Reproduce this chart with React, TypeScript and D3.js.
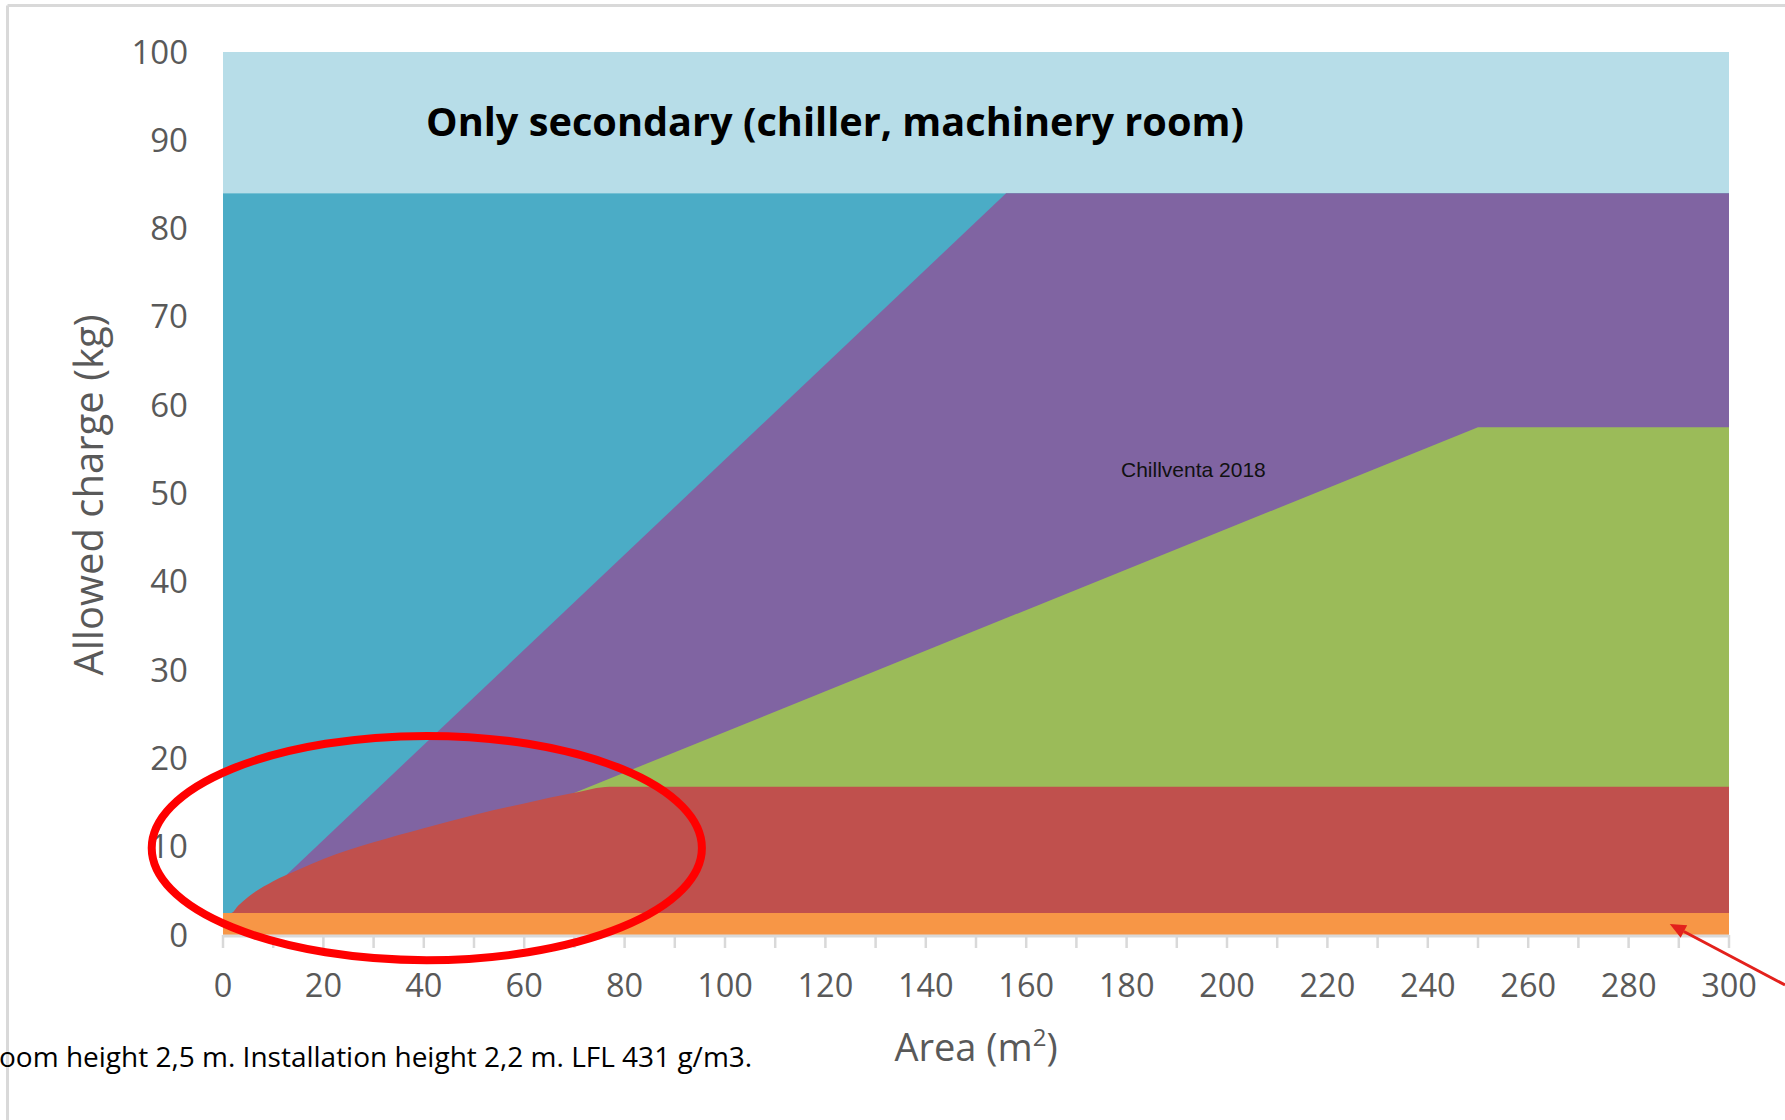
import React from "react";
import * as d3 from "d3";

const W = 1785;
const H = 1120;

// tick labels
const areaLabels = [0, 20, 40, 60, 80, 100, 120, 140, 160, 180, 200, 220, 240, 260, 280, 300];
const chargeLabels = [0, 10, 20, 30, 40, 50, 60, 70, 80, 90, 100];

// zones (area m2 -> allowed charge kg)
const secondaryBand = [84, 100];
const tealArea = [0, 300];
const tealCharge = [84, 84];
const purpleArea = [0, 156, 300];
const purpleCharge = [0, 84, 84];
const greenArea = [0, 250, 300];
const greenCharge = [0, 57.5, 57.5];
const redArea = [0, 1.7, 3, 5, 10, 15, 20, 30, 40, 50, 60, 70, 77, 300];
const redCharge = [2.5, 2.5, 3.3, 4.3, 6.1, 7.4, 8.6, 10.5, 12.1, 13.6, 14.9, 16.1, 16.8, 16.8];
const orangeArea = [0, 300];
const orangeCharge = [2.5, 2.5];

const font = "'Open Sans', sans-serif";

export default function App() {
  const x = d3.scaleLinear().domain([0, 300]).range([223, 1729]);
  const y = d3.scaleLinear().domain([0, 100]).range([935, 52]);

  const area = d3
    .area<number[]>()
    .x((d) => x(d[0]))
    .y0(y(0))
    .y1((d) => y(d[1]));
  const zone = (a: number[], c: number[], smooth = false) => {
    const pts = a.map((v, i) => [v, c[i]]);
    return (smooth ? area.curve(d3.curveMonotoneX) : area.curve(d3.curveLinear))(pts) || "";
  };

  const minorTicks = d3.range(0, 301, 10);

  // arrow annotation
  const tipX = x(288.2);
  const tipY = y(1.25);
  const tailX = W;
  const tailY = 985;
  const ang = Math.atan2(tailY - tipY, tailX - tipX);
  const headLen = 16;
  const headW = 7;
  const bx = tipX + headLen * Math.cos(ang);
  const by = tipY + headLen * Math.sin(ang);
  const head = [
    [tipX, tipY],
    [bx - headW * Math.sin(ang), by + headW * Math.cos(ang)],
    [bx + headW * Math.sin(ang), by - headW * Math.cos(ang)],
  ];

  return (
    <svg
      width={W}
      height={H}
      style={{ position: "absolute", left: 0, top: 0, background: "#fff" }}
    >
      {/* frame */}
      <line x1={7.5} y1={5.5} x2={W} y2={5.5} stroke="#d9d9d9" strokeWidth={3} />
      <line x1={7.5} y1={5.5} x2={7.5} y2={H} stroke="#d9d9d9" strokeWidth={3} />

      {/* zones */}
      <rect
        x={x(0)}
        y={y(secondaryBand[1])}
        width={x(300) - x(0)}
        height={y(secondaryBand[0]) - y(secondaryBand[1])}
        fill="#b7dde8"
      />
      <path d={zone(tealArea, tealCharge)} fill="#4bacc6" />
      <path d={zone(purpleArea, purpleCharge)} fill="#8064a2" />
      <path d={zone(greenArea, greenCharge)} fill="#9bbb59" />
      <path d={zone(redArea, redCharge, true)} fill="#c0504d" />
      <path d={zone(orangeArea, orangeCharge)} fill="#f79646" />

      {/* x axis */}
      <line x1={x(0)} x2={x(300)} y1={y(0) + 1} y2={y(0) + 1} stroke="#d9d9d9" strokeWidth={3} />
      {minorTicks.map((t) => (
        <line key={t} x1={x(t)} x2={x(t)} y1={y(0)} y2={y(0) + 13} stroke="#d9d9d9" strokeWidth={2.5} />
      ))}
      {areaLabels.map((t) => (
        <text
          key={t}
          x={x(t)}
          y={997}
          textAnchor="middle"
          fontFamily={font}
          fontSize={32.5}
          fill="#595959"
        >
          {t}
        </text>
      ))}
      {chargeLabels.map((t) => (
        <text
          key={t}
          x={188}
          y={y(t) + 11.5}
          textAnchor="end"
          fontFamily={font}
          fontSize={33}
          fill="#595959"
        >
          {t}
        </text>
      ))}

      {/* axis titles */}
      <text x={976} y={1061} textAnchor="middle" fontFamily={font} fontSize={38} fill="#595959">
        Area (m<tspan fontSize={24} dy={-15}>2</tspan>
        <tspan dy={15}>)</tspan>
      </text>
      <text
        transform="translate(103,495) rotate(-90)"
        textAnchor="middle"
        fontFamily={font}
        fontSize={40}
        fill="#595959"
      >
        Allowed charge (kg)
      </text>

      {/* labels inside the plot */}
      <text x={835} y={136} textAnchor="middle" fontFamily={font} fontWeight={700} fontSize={39.7} fill="#000">
        Only secondary (chiller, machinery room)
      </text>
      <text x={1121} y={477} fontFamily="'Liberation Sans', Arial, sans-serif" fontSize={21} fill="#111">
        Chillventa 2018
      </text>

      {/* caption */}
      <text x={-1} y={1067} fontFamily={font} fontSize={28} fill="#000">
        oom height 2,5 m. Installation height 2,2 m. LFL 431 g/m3.
      </text>

      {/* annotations */}
      <ellipse
        cx={x(40.6)}
        cy={y(9.85)}
        rx={x(54.8) - x(0)}
        ry={y(0) - y(12.7)}
        fill="none"
        stroke="#ff0000"
        strokeWidth={8}
      />
      <line x1={tailX} y1={tailY} x2={bx} y2={by} stroke="#e3211c" strokeWidth={3} />
      <polygon points={head.map((p) => p.join(",")).join(" ")} fill="#e3211c" />
    </svg>
  );
}
